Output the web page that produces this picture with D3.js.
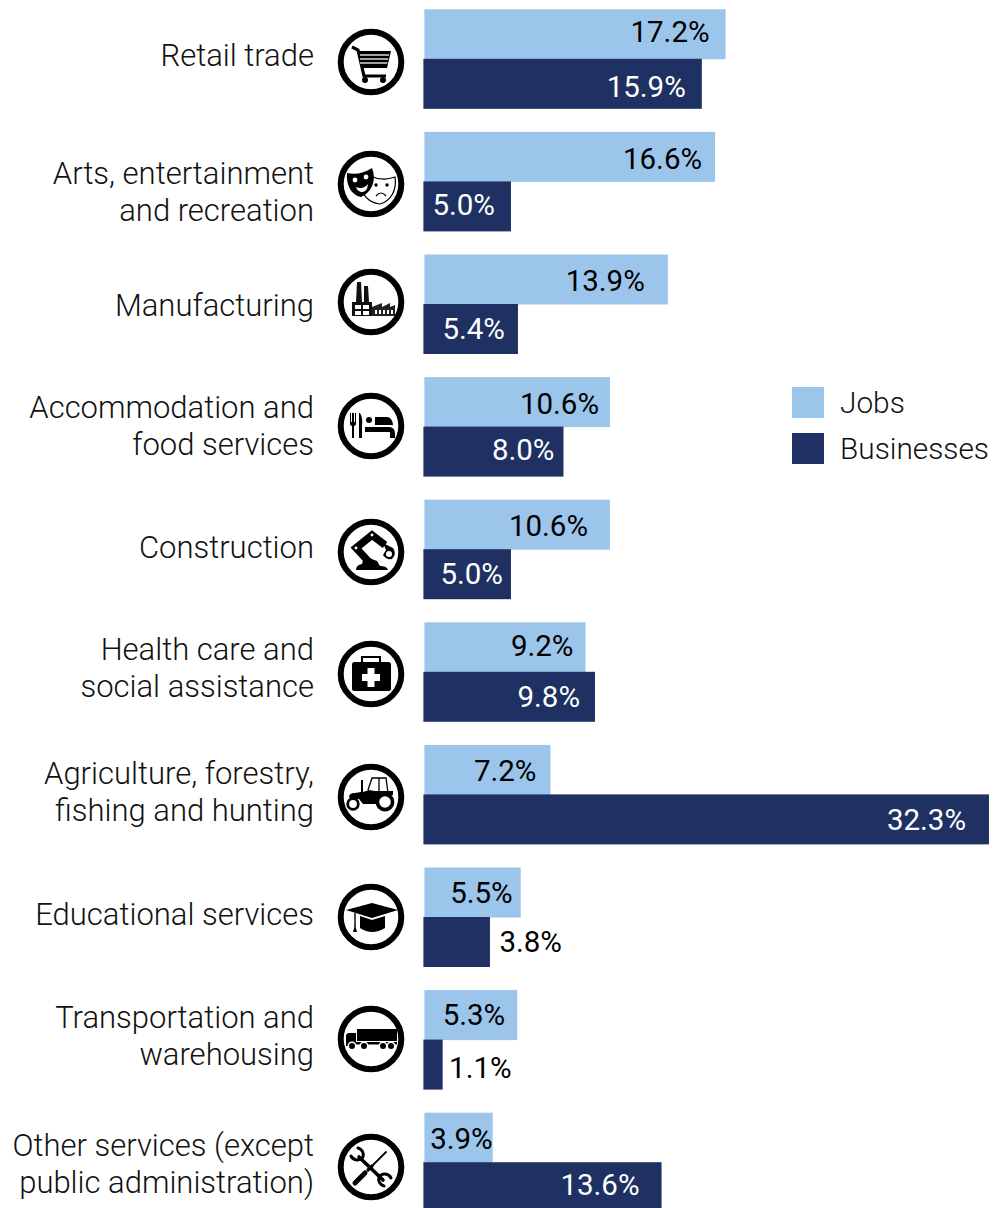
<!DOCTYPE html>
<html>
<head>
<meta charset="utf-8">
<script src="https://cdn.jsdelivr.net/npm/d3@7"></script>
<style>
  html, body { margin: 0; padding: 0; background: #fff; overflow: hidden; }
  svg { display: block; }
  text { font-family: Roboto, sans-serif; }
</style>
</head>
<body>
<svg id="chart" width="1005" height="1208"></svg>
<script>
// Data
const categories = [
    "Retail trade",
    "Arts, entertainment|and recreation",
    "Manufacturing",
    "Accommodation and|food services",
    "Construction",
    "Health care and|social assistance",
    "Agriculture, forestry,|fishing and hunting",
    "Educational services",
    "Transportation and|warehousing",
    "Other services (except|public administration)",
];
const jobs = [17.2, 16.6, 13.9, 10.6, 10.6, 9.2, 7.2, 5.5, 5.3, 3.9];
const businesses = [15.9, 5.0, 5.4, 8.0, 5.0, 9.8, 32.3, 3.8, 1.1, 13.6];
const seriesNames = ["Jobs", "Businesses"];
const iconNames = ["cart", "masks", "factory", "bed", "robot", "medkit", "tractor", "cap", "truck", "tools"];

// Layout
const colors = { Jobs: "#9bc5ea", Businesses: "#1e3162" };
const x = d3.scaleLinear().domain([0, 32.3]).range([423.4, 989]);
const y = d3.scaleBand().domain(categories).range([9.3, 1211.7]).paddingInner(0.1925).paddingOuter(0).align(0);
const sub = d3.scaleBand().domain(seriesNames).range([0, y.bandwidth()]);

// the labels were placed by hand in the original, so they sit unevenly around the bars
const jobsLabelOffset = [-15, -12, -22, -10, -21, -11, -13, -7, -11, 1];
const businessLabelOffset = [-16, -16, -13, -9, -8, -15, -23, 72, 69, -22];
const jobsLabelDy = [33, 37, 36, 37, 36, 34, 36, 35, 35, 36];
const businessLabelDy = [38, 34, 35, 33, 35, 35, 36, 35, 38, 33];
const categoryBaseline = [66, 184, 316, 418, 558, 660, 784, 925, 1028, 1156];
const iconCenterY = [62, 184, 302, 426, 552, 674, 797, 917, 1039, 1167];

const $svg = d3.select("#chart");

// Bars (the Jobs bars sit about a pixel to the right of the Businesses bars)
seriesNames.forEach((name, s) => {
    const values = s === 0 ? jobs : businesses;
    const shift = s === 0 ? 1 : 0;
    $svg.append("g")
      .selectAll("rect")
      .data(values)
      .join("rect")
        .attr("x", x(0) + shift)
        .attr("y", (d, i) => y(categories[i]) + sub(name))
        .attr("width", d => x(d) - x(0))
        .attr("height", sub.bandwidth() + 0.5)
        .attr("fill", colors[name]);
});

// Value labels
$svg.append("g")
  .selectAll("text")
  .data(jobs)
  .join("text")
    .attr("x", (d, i) => x(d) + jobsLabelOffset[i])
    .attr("y", (d, i) => y(categories[i]) + sub("Jobs") + jobsLabelDy[i])
    .attr("text-anchor", "end")
    .attr("font-size", 29.5)
    .attr("fill", "#000")
    .text(d => d.toFixed(1) + "%");

$svg.append("g")
  .selectAll("text")
  .data(businesses)
  .join("text")
    .attr("x", (d, i) => x(d) + businessLabelOffset[i])
    .attr("y", (d, i) => y(categories[i]) + sub("Businesses") + businessLabelDy[i])
    .attr("text-anchor", "end")
    .attr("font-size", 29.5)
    .attr("fill", (d, i) => businessLabelOffset[i] > 0 ? "#000" : "#fff")
    .text(d => d.toFixed(1) + "%");

// Category labels
const $labels = $svg.append("g")
  .selectAll("text")
  .data(categories)
  .join("text")
    .attr("text-anchor", "end")
    .attr("font-size", 31)
    .attr("font-weight", 300)
    .attr("fill", "#111");

$labels.each(function (d, i) {
    d3.select(this).selectAll("tspan")
      .data(d.split("|"))
      .join("tspan")
        .attr("x", 314)
        .attr("y", (l, k) => categoryBaseline[i] + k * 37)
        .text(l => l);
});

// Icons, each one drawn around (0, 0)
const icons = {
    cart($g) {
        $g.append("path").attr("d", "M-19,-15L-13,-12L-7,14H15").attr("fill", "none").attr("stroke", "#000").attr("stroke-width", 3.2);
        $g.append("path").attr("d", "M-13,-11H20L16,6H-9Z").attr("fill", "#000");
        [-7, -3, 1].forEach(l => {
            $g.append("line").attr("x1", -11).attr("x2", 18 - (l + 7) * 0.2).attr("y1", l).attr("y2", l).attr("stroke", "#ccc").attr("stroke-width", 1.6);
        });
        $g.append("circle").attr("cx", -6).attr("cy", 18).attr("r", 3);
        $g.append("circle").attr("cx", 12).attr("cy", 18).attr("r", 3);
    },
    masks($g) {
        $g.append("path").attr("d", "M-1,-8C8,-4 16,-4 24,-7C26,6 20,17 9,20C0,19 -7,13 -10,4Z")
          .attr("fill", "#fff").attr("stroke", "#000").attr("stroke-width", 1.2);
        $g.append("circle").attr("cx", 5).attr("cy", 1).attr("r", 1.7);
        $g.append("circle").attr("cx", 16).attr("cy", 1).attr("r", 1.7);
        $g.append("path").attr("d", "M5,12Q10,6 15,12").attr("fill", "none").attr("stroke", "#000").attr("stroke-width", 1.2);
        $g.append("path").attr("d", "M-24,-11C-15,-9 -7,-11 1,-16C5,-6 3,7 -10,13C-20,11 -25,1 -24,-11Z").attr("fill", "#000");
        $g.append("circle").attr("cx", -16).attr("cy", -4).attr("r", 2.4).attr("fill", "#fff");
        $g.append("circle").attr("cx", -5).attr("cy", -7).attr("r", 2.4).attr("fill", "#fff");
        $g.append("path").attr("d", "M-15,3Q-8,6 -3,0Q-4,9 -10,8Q-14,7 -15,3Z").attr("fill", "#fff");
    },
    factory($g) {
        $g.append("path").attr("d", "M-14,-20H-10L-9,0H-7L-7,-16H-3L-2,0H1V14H-19V0H-15Z").attr("fill", "#111");
        [[-16, 3], [-8, 3], [-16, 9], [-8, 9]].forEach(p => {
            $g.append("rect").attr("x", p[0]).attr("y", p[1]).attr("width", 6).attr("height", 4).attr("fill", "#fff");
        });
        $g.append("path").attr("d", "M1,14V5L11,1V5L19,1V5L24,3V14Z").attr("fill", "#222");
        [4, 8, 12, 16, 20].forEach(c => {
            $g.append("rect").attr("x", c).attr("y", 8).attr("width", 2).attr("height", 4).attr("fill", "#fff");
        });
    },
    bed($g) {
        $g.append("path").attr("d", "M-21,-13V-3Q-21,0 -19,0L-19,12H-17L-17,0Q-15,0 -15,-3V-13H-16V-4H-17V-13H-19V-4H-20V-13Z").attr("fill", "#000");
        $g.append("path").attr("d", "M-11,-13Q-8,-8 -9,0L-9,12H-12V-13Z").attr("fill", "#000");
        $g.append("circle").attr("cx", -2).attr("cy", -6).attr("r", 3);
        $g.append("path").attr("d", "M4,-9H16Q21,-9 22,-1H4Z").attr("fill", "#000");
        $g.append("path").attr("d", "M-6,1H18Q24,1 24,8V12H19V6H-6Z").attr("fill", "#000");
    },
    robot($g) {
        $g.append("path").attr("d", "M-15,18Q-15,13 -9,12L-7,4L6,9L9,14Q16,14 17,18Z").attr("fill", "#000");
        $g.append("path").attr("d", "M-2,10L-15,-4L1,-17L14,-7").attr("fill", "none").attr("stroke", "#000").attr("stroke-width", 7.5);
        $g.append("circle").attr("cx", -15).attr("cy", -4).attr("r", 1.4).attr("fill", "#fff");
        $g.append("circle").attr("cx", 1).attr("cy", -17).attr("r", 1.4).attr("fill", "#fff");
        $g.append("path").attr("d", "M12,-9L22,-4Q26,2 21,7Q15,8 12,3L15,-2Z").attr("fill", "#000");
        $g.append("circle").attr("cx", 18).attr("cy", 2).attr("r", 3).attr("fill", "#fff");
    },
    medkit($g) {
        $g.append("path").attr("d", "M-9,-12V-17H9V-12").attr("fill", "none").attr("stroke", "#000").attr("stroke-width", 2);
        $g.append("rect").attr("x", -19).attr("y", -12).attr("width", 39).attr("height", 29).attr("rx", 2.5);
        $g.append("path").attr("d", "M-3.5,-6H3.5V0H9V7H3.5V13H-3.5V7H-9V0H-3.5Z").attr("fill", "#fff");
    },
    tractor($g) {
        $g.append("path").attr("d", "M-3,-7L1,-19H15L17,-4M8,-19V-6").attr("fill", "none").attr("stroke", "#000").attr("stroke-width", 1.3);
        $g.append("path").attr("d", "M-22,0Q-22,-4 -16,-4L-10,-5V-17H-8V-5L-2,-7L4,-6V0L6,7H-8L-12,2H-20Z").attr("fill", "#000");
        $g.append("path").attr("d", "M4,-6H22V-2H14Q7,-1 6,6H4Z").attr("fill", "#000");
        $g.append("circle").attr("cx", 14).attr("cy", 5).attr("r", 7.6).attr("fill", "#fff").attr("stroke", "#000").attr("stroke-width", 3.6);
        $g.append("circle").attr("cx", -18).attr("cy", 7).attr("r", 5.3).attr("fill", "#fff").attr("stroke", "#000").attr("stroke-width", 2.8);
    },
    cap($g) {
        $g.append("path").attr("d", "M-25,-7L1,-14L27,-7L1,1Z").attr("fill", "#000");
        $g.append("path").attr("d", "M-11,-1L1,3L14,-1V11Q1,19 -11,11Z").attr("fill", "#000");
        $g.append("path").attr("d", "M-16,-4V10").attr("stroke", "#000").attr("stroke-width", 1.4);
        $g.append("path").attr("d", "M-18,15L-16,8L-14,15Z").attr("fill", "#000");
    },
    truck($g) {
        $g.append("rect").attr("x", -14).attr("y", -10).attr("width", 40).attr("height", 12);
        $g.append("path").attr("d", "M-25,7V-4L-23,-6H-15V7Z").attr("fill", "#000");
        $g.append("rect").attr("x", -15).attr("y", 3).attr("width", 41).attr("height", 2.5);
        [-19, -7, 12, 20].forEach(c => {
            $g.append("circle").attr("cx", c).attr("cy", 7).attr("r", 4.5).attr("fill", "#fff");
            $g.append("circle").attr("cx", c).attr("cy", 7).attr("r", 3);
        });
    },
    tools($g) {
        const line = (d, w) => $g.append("path").attr("d", d).attr("fill", "none").attr("stroke", "#000").attr("stroke-width", w).attr("stroke-linecap", "round");
        line("M-12,-10L12,13", 3.6);
        line("M-20,-11A7,7 0 0 0 -8,-10A7,7 0 0 0 -13,-19", 3);
        line("M20,11A7,7 0 0 0 8,10A7,7 0 0 0 13,19", 3);
        line("M15,-15L2,-2", 1.8);
        line("M1,-1L-3,3", 3.2);
        line("M-6,6L-16,16", 5);
    },
};

const $icons = $svg.append("g")
  .selectAll("g")
  .data(iconNames)
  .join("g")
    .attr("transform", (d, i) => `translate(371,${iconCenterY[i]})`);

$icons.append("circle")
    .attr("r", 30.3)
    .attr("fill", "#fff")
    .attr("stroke", "#000")
    .attr("stroke-width", 6);

$icons.each(function (d) {
    icons[d](d3.select(this));
});

// Legend
const legendY = d3.scalePoint().domain(seriesNames).range([387, 433]);
const $legend = $svg.append("g")
  .selectAll("g")
  .data(seriesNames)
  .join("g")
    .attr("transform", d => `translate(792,${legendY(d)})`);

$legend.append("rect")
    .attr("width", 32)
    .attr("height", 31)
    .attr("fill", d => colors[d]);

$legend.append("text")
    .attr("x", 48)
    .attr("y", 26)
    .attr("font-size", 29.8)
    .attr("font-weight", 300)
    .attr("fill", "#111")
    .text(d => d);
</script>
</body>
</html>
